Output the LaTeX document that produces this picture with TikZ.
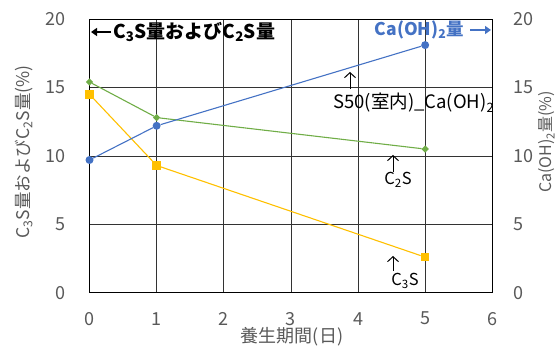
\documentclass[tikz,border=0pt]{standalone}
\usepackage{fontspec}
\setmainfont{Noto Sans CJK JP}
\usetikzlibrary{arrows.meta,shapes.geometric}
\definecolor{axgray}{HTML}{595959}
\definecolor{cblue}{HTML}{4472C4}
\definecolor{cgreen}{HTML}{70AD47}
\definecolor{cyellow}{HTML}{FFC000}
\begin{document}
\begin{tikzpicture}[x=1pt,y=1pt,
  ticklbl/.style={font=\fontsize{18}{18}\selectfont, text=axgray, inner sep=0pt},
  axtitle/.style={text=axgray, inner sep=0pt},
  gridl/.style={draw=black!80, line width=0.7pt},
  framel/.style={draw=black, line width=1.1pt},
  axisl/.style={draw=black, line width=1.6pt},
  bluemark/.style={circle, fill=cblue, inner sep=0pt, minimum size=8pt},
  greenmark/.style={diamond, fill=cgreen, inner sep=0pt, minimum size=7.5pt},
  yellowmark/.style={rectangle, fill=cyellow, inner sep=0pt, minimum size=8.5pt},
  blueline/.style={draw=cblue, line width=1.1pt},
  greenline/.style={draw=cgreen, line width=1.1pt},
  yellowline/.style={draw=cyellow, line width=1.1pt},
  annot/.style={text=black, inner sep=0pt},
  boldlbl/.style={inner sep=0pt},
  annarrow/.style={draw=black, line width=1pt, -{Straight Barb[length=5pt,width=11pt]}},
  bigarrow/.style={line width=2.2pt, -{Triangle[length=6pt,width=8pt]}}
]
\useasboundingbox (0,0) rectangle (559,347);
\begin{scope}[shift={(89.5,54.3)}, x=67.13pt, y=13.68pt]
  % grid
  \foreach \i in {1,...,5} \draw[gridl] (\i,0) -- (\i,20);
  \foreach \j in {5,10,15} \draw[gridl] (0,\j) -- (6,\j);
  \draw[framel] (0,20) -- (6,20) -- (6,0);
  \draw[axisl] (0,20) -- (0,0) -- (6,0);
  % tick labels
  \foreach \j in {0,5,10,15,20} {
    \node[ticklbl, anchor=east] (yl\j) at (-0.36,\j) {\j};
    \node[ticklbl, anchor=west] (yr\j) at (6.31,\j) {\j};
  }
  \foreach \i in {0,...,6}
    \node[ticklbl] (xl\i) at (\i,-1.9) {\i};
  % data markers
  \node[bluemark] (b0) at (0,9.7) {};
  \node[bluemark] (b1) at (1,12.2) {};
  \node[bluemark] (b5) at (5,18.1) {};
  \node[greenmark] (g0) at (0,15.4) {};
  \node[greenmark] (g1) at (1,12.8) {};
  \node[greenmark] (g5) at (5,10.5) {};
  \node[yellowmark] (y0) at (0,14.5) {};
  \node[yellowmark] (y1) at (1,9.3) {};
  \node[yellowmark] (y5) at (5,2.6) {};
  % series lines
  \draw[greenline] (g0) -- (g1) -- (g5);
  \draw[yellowline] (y0) -- (y1) -- (y5);
  \draw[blueline] (b0) -- (b1) -- (b5);
\end{scope}
% axis titles
\node[axtitle, rotate=90, font=\fontsize{17.5}{17.5}\selectfont] (ylab) at (24,195) {C\textsubscript{3}S量およびC\textsubscript{2}S量(\%)};
\node[axtitle, rotate=90, font=\fontsize{16}{16}\selectfont] (yrlab) at (547,205) {Ca(OH)\textsubscript{2}量(\%)};
\node[axtitle, font=\fontsize{18}{18}\selectfont] (xlab) at (292,10) {養生期間(日)};
% top annotations
\node[boldlbl, anchor=west, font=\fontsize{19}{19}\selectfont\bfseries] (leftlbl) at (113,315) {C\textsubscript{3}S量およびC\textsubscript{2}S量};
\coordinate (leftend) at (91,315);
\draw[bigarrow] (leftlbl.west) ++(-2,0) coordinate (leftstart) -- (leftend);
\node[boldlbl, anchor=east, text=cblue, font=\fontsize{17.5}{17.5}\selectfont\bfseries] (rightlbl) at (464,317) {Ca(OH)\textsubscript{2}量};
\coordinate (rightend) at (491,317);
\draw[bigarrow, draw=cblue, fill=cblue] (rightlbl.east) ++(6,0) coordinate (rightstart) -- (rightend);
% inner annotations
\node[annot, anchor=west, font=\fontsize{18.5}{18.5}\selectfont] (s50) at (333,244) {S50(室内)\_Ca(OH)\textsubscript{2}};
\coordinate (s50tip) at (350,275);
\coordinate (s50tail) at (350,258);
\draw[annarrow] (s50tail) -- (s50tip);
\node[annot, font=\fontsize{16.5}{16.5}\selectfont] (c2s) at (398,167) {C\textsubscript{2}S};
\coordinate (c2stip) at (393,192);
\coordinate (c2stail) at (393,175);
\draw[annarrow] (c2stail) -- (c2stip);
\node[annot, font=\fontsize{16.5}{16.5}\selectfont] (c3s) at (405,66) {C\textsubscript{3}S};
\coordinate (c3stip) at (393,91);
\coordinate (c3stail) at (393,76);
\draw[annarrow] (c3stail) -- (c3stip);
\end{tikzpicture}
\end{document}
